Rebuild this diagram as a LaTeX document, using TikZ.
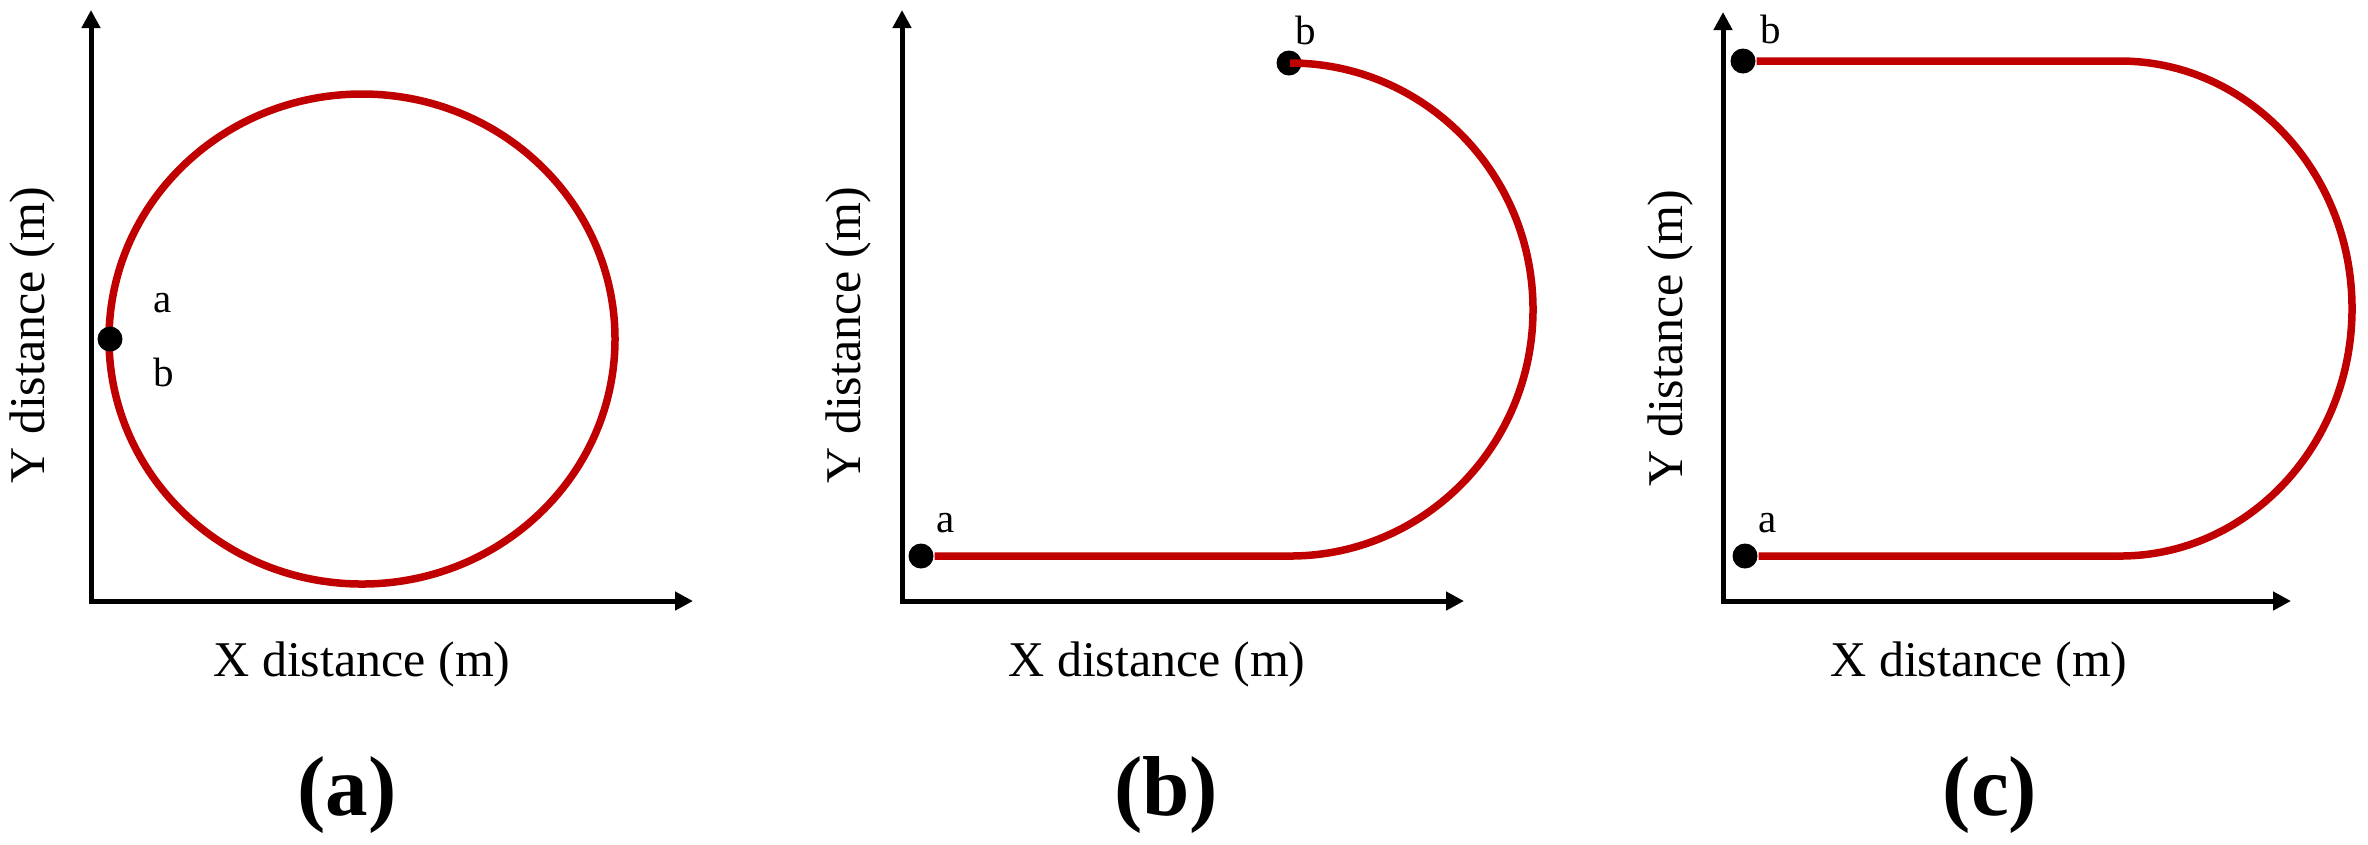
\documentclass[tikz,border=0pt]{standalone}
\usepackage{fontspec}
\setmainfont{Liberation Serif}
\usetikzlibrary{arrows.meta}
\definecolor{trajred}{RGB}{192,0,0}
\begin{document}
\begin{tikzpicture}[x=0.2pt,y=-0.2pt,
  axis/.style={line width=1pt,{Triangle[length=3.6pt,width=3.6pt]}-{Triangle[length=3.6pt,width=3.6pt]}},
  traj/.style={draw=trajred,line width=1.5pt},
  dot/.style={circle,fill=black,inner sep=0pt,minimum size=5pt},
  lbl/.style={font=\fontsize{8.2}{9}\selectfont,anchor=base,inner sep=0pt},
  axlbl/.style={font=\fontsize{10}{12}\selectfont,anchor=base,inner sep=0pt},
  panelcap/.style={font=\fontsize{17}{20}\selectfont\bfseries,inner sep=0pt}]
\useasboundingbox (0,0) rectangle (2368,844);
% ---------- panel (a)
\coordinate (oA) at (91,601);
\coordinate (yA) at (91,10);
\coordinate (xA) at (693,601);
\draw[axis] (yA) -- (oA) -- (xA);
\coordinate (cA) at (362,339);
\draw[traj] (cA) ellipse [x radius=253, y radius=245];
\node[dot] (dA) at (110,339) {};
\node[lbl] (laA) at (163,312) {a};
\node[lbl] (lbA) at (164,386) {b};
\node[axlbl] (xlA) at (362,676) {X distance (m)};
\node[axlbl,rotate=90] (ylA) at (45,335) {Y distance (m)};
\node[panelcap] (capA) at (347,795) {(a)};
% ---------- panel (b)
\coordinate (oB) at (902,601);
\coordinate (yB) at (902,10);
\coordinate (xB) at (1464,601);
\draw[axis] (yB) -- (oB) -- (xB);
\node[dot] (aB) at (921,556) {};
\node[dot] (bB) at (1289,63) {};
\coordinate (kB) at (1290,556);
\draw[traj] (aB) -- (kB) arc[start angle=90, end angle=-90, x radius=243, y radius=246.5] -- (bB);
\node[lbl] (laB) at (946,532) {a};
\node[lbl] (lbB) at (1306,44) {b};
\node[axlbl] (xlB) at (1157,676) {X distance (m)};
\node[axlbl,rotate=90] (ylB) at (860,335) {Y distance (m)};
\node[panelcap] (capB) at (1166,795) {(b)};
% ---------- panel (c)
\coordinate (oC) at (1723,601);
\coordinate (yC) at (1723,12);
\coordinate (xC) at (2291,601);
\draw[axis] (yC) -- (oC) -- (xC);
\node[dot] (aC) at (1745,556) {};
\node[dot] (bC) at (1743,61) {};
\coordinate (kC1) at (2120,556);
\draw[traj] (aC) -- (kC1) arc[start angle=90, end angle=-90, x radius=232, y radius=247.5] -- (bC);
\node[lbl] (laC) at (1768,532) {a};
\node[lbl] (lbC) at (1771,43) {b};
\node[axlbl] (xlC) at (1979,676) {X distance (m)};
\node[axlbl,rotate=90] (ylC) at (1682,338) {Y distance (m)};
\node[panelcap] (capC) at (1990,795) {(c)};
\end{tikzpicture}
\end{document}
